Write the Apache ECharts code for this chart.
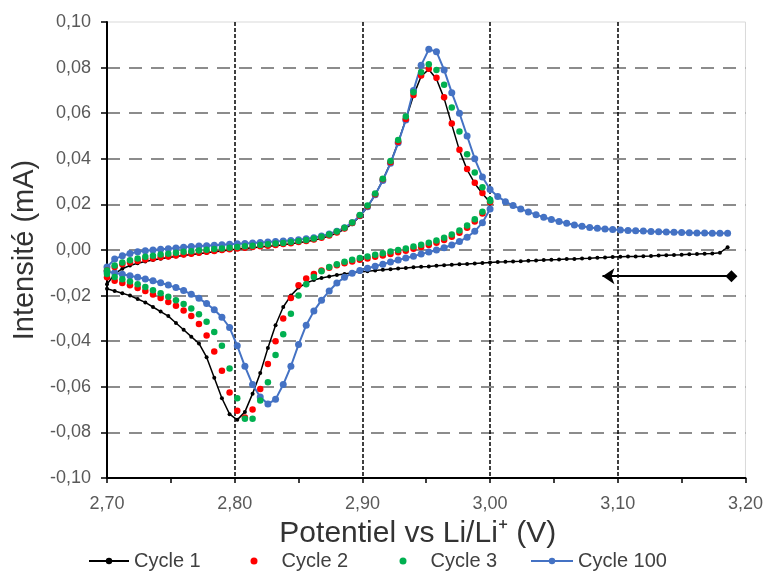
<!DOCTYPE html>
<html>
<head>
<meta charset="utf-8">
<script src="https://cdn.jsdelivr.net/npm/echarts@6/dist/echarts.min.js"></script>
<style>
html,body{margin:0;padding:0;background:#fff;}
#chart{width:766px;height:572px;}
</style>
</head>
<body>
<div id="chart"></div>
<script>
// Potential grid (V)
const potentialsLoop = [2.700,2.706,2.712,2.718,2.724,2.730,2.736,2.742,2.748,2.754,
  2.760,2.766,2.772,2.778,2.784,2.790,2.796,2.802,2.808,2.814,
  2.820,2.826,2.832,2.838,2.844,2.850,2.856,2.862,2.868,2.874,
  2.880,2.886,2.892,2.898,2.904,2.910,2.916,2.922,2.928,2.934,
  2.940,2.946,2.952,2.958,2.964,2.970,2.976,2.982,2.988,2.994,3.000];
const potentialsTail = [3.006,3.012,3.018,3.024,3.030,3.036,3.042,3.048,3.054,3.060,
  3.066,3.072,3.078,3.084,3.090,3.096,3.102,3.108,3.114,3.120,
  3.126,3.132,3.138,3.144,3.150,3.156,3.162,3.168,3.174,3.180,3.186];

// Cycle 1 (mA)
const cycle1CathodicLoop = [-0.0170,-0.0180,-0.0190,-0.0200,-0.0215,-0.0230,-0.0250,-0.0270,-0.0290,-0.0320,
  -0.0350,-0.0380,-0.0410,-0.0470,-0.0560,-0.0650,-0.0720,-0.0745,-0.0710,-0.0630,
  -0.0540,-0.0430,-0.0330,-0.0250,-0.0200,-0.0165,-0.0145,-0.0132,-0.0123,-0.0116,
  -0.0110,-0.0105,-0.0100,-0.0096,-0.0093,-0.0090,-0.0087,-0.0084,-0.0081,-0.0079,
  -0.0076,-0.0074,-0.0072,-0.0069,-0.0067,-0.0065,-0.0063,-0.0061,-0.0059,-0.0057,-0.0055];
const cycle1CathodicTail = [-0.0053,-0.0052,-0.0050,-0.0049,-0.0047,-0.0046,-0.0044,-0.0043,-0.0042,-0.0040,
  -0.0039,-0.0037,-0.0036,-0.0034,-0.0033,-0.0031,-0.0030,-0.0029,-0.0028,-0.0027,
  -0.0026,-0.0024,-0.0023,-0.0022,-0.0021,-0.0019,-0.0018,-0.0016,-0.0015,-0.0012,0.0012];
const cycle1Anodic = [-0.0150,-0.0105,-0.0082,-0.0068,-0.0058,-0.0050,-0.0044,-0.0038,-0.0033,-0.0028,
  -0.0024,-0.0020,-0.0016,-0.0012,-0.0008,-0.0004,0.0000,0.0004,0.0007,0.0010,
  0.0013,0.0016,0.0019,0.0023,0.0027,0.0032,0.0037,0.0043,0.0051,0.0061,
  0.0074,0.0091,0.0115,0.0147,0.0189,0.0242,0.0307,0.0382,0.0472,0.0572,
  0.0677,0.0762,0.0792,0.0750,0.0665,0.0550,0.0437,0.0352,0.0292,0.0248,0.0208];

// Cycle 2 (mA)
const cycle2Cathodic = [-0.0120,-0.0135,-0.0145,-0.0155,-0.0167,-0.0180,-0.0195,-0.0210,-0.0228,-0.0245,
  -0.0265,-0.0290,-0.0325,-0.0375,-0.0445,-0.0530,-0.0625,-0.0705,-0.0735,-0.0700,
  -0.0610,-0.0500,-0.0400,-0.0300,-0.0210,-0.0155,-0.0125,-0.0105,-0.0090,-0.0078,
  -0.0067,-0.0058,-0.0050,-0.0043,-0.0037,-0.0030,-0.0024,-0.0017,-0.0010,-0.0003,
  0.0005,0.0013,0.0022,0.0032,0.0044,0.0058,0.0076,0.0098,0.0125,0.0160,0.0210];
const cycle2Anodic = [-0.0090,-0.0075,-0.0063,-0.0055,-0.0048,-0.0042,-0.0037,-0.0032,-0.0028,-0.0024,
  -0.0020,-0.0016,-0.0012,-0.0008,-0.0004,0.0000,0.0003,0.0007,0.0010,0.0013,
  0.0016,0.0019,0.0022,0.0026,0.0030,0.0035,0.0040,0.0046,0.0054,0.0064,
  0.0077,0.0094,0.0118,0.0150,0.0192,0.0245,0.0310,0.0385,0.0475,0.0575,
  0.0680,0.0765,0.0795,0.0755,0.0670,0.0555,0.0440,0.0355,0.0295,0.0250,0.0210];

// Cycle 3 (mA)
const cycle3Cathodic = [-0.0105,-0.0118,-0.0128,-0.0138,-0.0150,-0.0162,-0.0176,-0.0190,-0.0205,-0.0220,
  -0.0237,-0.0257,-0.0282,-0.0315,-0.0360,-0.0420,-0.0520,-0.0650,-0.0740,-0.0740,
  -0.0660,-0.0580,-0.0460,-0.0370,-0.0280,-0.0200,-0.0150,-0.0118,-0.0093,-0.0075,
  -0.0062,-0.0052,-0.0043,-0.0035,-0.0028,-0.0021,-0.0014,-0.0007,0.0000,0.0007,
  0.0015,0.0023,0.0032,0.0042,0.0054,0.0068,0.0086,0.0108,0.0135,0.0168,0.0215];
const cycle3Anodic = [-0.0090,-0.0068,-0.0055,-0.0045,-0.0037,-0.0030,-0.0025,-0.0020,-0.0016,-0.0012,
  -0.0008,-0.0005,-0.0002,0.0001,0.0004,0.0007,0.0010,0.0013,0.0016,0.0019,
  0.0022,0.0025,0.0028,0.0031,0.0035,0.0039,0.0044,0.0050,0.0058,0.0068,
  0.0081,0.0098,0.0121,0.0153,0.0195,0.0248,0.0313,0.0390,0.0482,0.0585,
  0.0692,0.0780,0.0815,0.0790,0.0725,0.0625,0.0520,0.0420,0.0340,0.0275,0.0220];

// Cycle 100 (mA)
const cycle100Cathodic = [-0.0095,-0.0100,-0.0106,-0.0113,-0.0120,-0.0127,-0.0135,-0.0144,-0.0154,-0.0165,
  -0.0178,-0.0194,-0.0212,-0.0235,-0.0262,-0.0295,-0.0340,-0.0420,-0.0510,-0.0590,
  -0.0645,-0.0675,-0.0655,-0.0590,-0.0510,-0.0415,-0.0330,-0.0268,-0.0220,-0.0180,
  -0.0145,-0.0120,-0.0102,-0.0090,-0.0080,-0.0071,-0.0062,-0.0053,-0.0044,-0.0035,
  -0.0027,-0.0018,-0.0009,0.0000,0.0010,0.0022,0.0037,0.0056,0.0082,0.0120,0.0180];
const cycle100Anodic = [-0.0075,-0.0040,-0.0025,-0.0015,-0.0008,-0.0003,0.0000,0.0003,0.0006,0.0009,
  0.0012,0.0015,0.0017,0.0019,0.0021,0.0023,0.0025,0.0027,0.0029,0.0031,
  0.0033,0.0035,0.0037,0.0039,0.0042,0.0045,0.0049,0.0054,0.0061,0.0070,
  0.0082,0.0098,0.0120,0.0150,0.0190,0.0242,0.0305,0.0380,0.0470,0.0570,
  0.0700,0.0810,0.0880,0.0870,0.0790,0.0690,0.0600,0.0500,0.0400,0.0320,0.0265];
const cycle100AnodicTail = [0.0235,0.0212,0.0195,0.0180,0.0167,0.0155,0.0144,0.0134,0.0125,0.0117,
  0.0110,0.0104,0.0099,0.0095,0.0092,0.0090,0.0088,0.0086,0.0084,0.0083,
  0.0081,0.0080,0.0079,0.0078,0.0077,0.0076,0.0075,0.0075,0.0074,0.0074,0.0073];

// Tick labels / names
const seriesNames = ['Cycle 1', 'Cycle 2', 'Cycle 3', 'Cycle 100'];
const xAxisTitle = 'Potentiel vs Li/Li\u207A (V)';
const yAxisTitle = 'Intensité (mA)';
const scanArrow = [[3.088, -0.0115], [3.189, -0.0115]];

function pairs(xs, ys) { return xs.map((x, i) => [x, ys[i]]); }

const cycle1Data = pairs(potentialsTail, cycle1CathodicTail).reverse()
  .concat(pairs(potentialsLoop, cycle1CathodicLoop).reverse())
  .concat(pairs(potentialsLoop, cycle1Anodic));
const cycle2Data = pairs(potentialsLoop, cycle2Cathodic).reverse().concat(pairs(potentialsLoop, cycle2Anodic));
const cycle3Data = pairs(potentialsLoop, cycle3Cathodic).reverse().concat(pairs(potentialsLoop, cycle3Anodic));
const cycle100Data = pairs(potentialsLoop, cycle100Cathodic).reverse()
  .concat(pairs(potentialsLoop, cycle100Anodic))
  .concat(pairs(potentialsTail, cycle100AnodicTail));

const fmt = v => (Math.abs(v) < 1e-9 ? 0 : v).toFixed(2).replace('.', ',');
const FONT = '"Liberation Sans", Arial, sans-serif';
const legendText = {fontSize: 20, color: '#404040', fontFamily: FONT};
const LEGEND_TOP = 551;

const chart = echarts.init(document.getElementById('chart'), null, {renderer: 'canvas'});
chart.setOption({
  animation: false,
  backgroundColor: '#fff',
  textStyle: {fontFamily: FONT},
  grid: {left: 107, top: 22, width: 640, height: 456, show: true, borderColor: '#d9d9d9', borderWidth: 1, backgroundColor: 'transparent'},
  legend: [
    {data: [seriesNames[0]], top: LEGEND_TOP, left: 88, padding: 0, itemWidth: 40, itemHeight: 8, textStyle: legendText},
    {data: [seriesNames[1]], top: LEGEND_TOP, left: 250.5, padding: 0, itemWidth: 7, itemHeight: 7, icon: 'circle',
      textStyle: Object.assign({padding: [0, 0, 0, 19]}, legendText)},
    {data: [seriesNames[2]], top: LEGEND_TOP, left: 399.5, padding: 0, itemWidth: 7, itemHeight: 7, icon: 'circle',
      textStyle: Object.assign({padding: [0, 0, 0, 19]}, legendText)},
    {data: [seriesNames[3]], top: LEGEND_TOP, left: 530, padding: 0, itemWidth: 42, itemHeight: 8, textStyle: legendText}
  ],
  xAxis: {
    type: 'value', min: 2.7, max: 3.2, interval: 0.1,
    name: xAxisTitle, nameLocation: 'middle', nameGap: 41,
    nameTextStyle: {fontSize: 30, color: '#333', fontFamily: FONT, padding: [0, 17, 0, 0]},
    axisLine: {show: true, onZero: false, lineStyle: {color: '#000', width: 2}},
    axisTick: {show: true, length: 5, lineStyle: {color: '#000', width: 1.5}},
    minorTick: {show: true, splitNumber: 2, length: 5, lineStyle: {color: '#000', width: 1.5}},
    splitLine: {show: true, showMinLine: false, showMaxLine: false, lineStyle: {color: '#000', width: 1.5, type: [4, 2]}},
    axisLabel: {formatter: fmt, fontSize: 18, color: '#595959', margin: 17, fontFamily: FONT}
  },
  yAxis: {
    type: 'value', min: -0.1, max: 0.1, interval: 0.02,
    name: yAxisTitle, nameLocation: 'middle', nameGap: 54, nameRotate: 90,
    nameTextStyle: {fontSize: 29, color: '#333', fontFamily: FONT},
    axisLine: {show: true, onZero: false, lineStyle: {color: '#000', width: 2}},
    axisTick: {show: true, length: 6, lineStyle: {color: '#000', width: 1.5}},
    splitLine: {show: true, showMinLine: false, showMaxLine: false, lineStyle: {color: '#8c8c8c', width: 2, type: [13, 9]}},
    axisLabel: {formatter: fmt, fontSize: 18, color: '#595959', margin: 16, fontFamily: FONT}
  },
  series: [
    {
      name: seriesNames[0], type: 'line', data: cycle1Data, z: 1,
      symbol: 'circle', symbolSize: 4, showAllSymbol: true,
      itemStyle: {color: '#000'}, lineStyle: {color: '#000', width: 1.5},
      markLine: {
        silent: true, animation: false,
        symbol: ['arrow', 'diamond'], symbolSize: [12, 12],
        label: {show: false},
        lineStyle: {color: '#000', width: 2, type: 'solid'},
        data: [[{coord: scanArrow[0]}, {coord: scanArrow[1]}]]
      }
    },
    {
      name: seriesNames[1], type: 'scatter', data: cycle2Data, z: 4,
      symbol: 'circle', symbolSize: 6.5, itemStyle: {color: '#ff0000', opacity: 1}
    },
    {
      name: seriesNames[2], type: 'scatter', data: cycle3Data, z: 5,
      symbol: 'circle', symbolSize: 6.5, itemStyle: {color: '#00b050', opacity: 1}
    },
    {
      name: seriesNames[3], type: 'line', data: cycle100Data, z: 2,
      symbol: 'circle', symbolSize: 7, showAllSymbol: true,
      itemStyle: {color: '#4472c4'}, lineStyle: {color: '#4472c4', width: 2}
    }
  ]
});
</script>
</body>
</html>
